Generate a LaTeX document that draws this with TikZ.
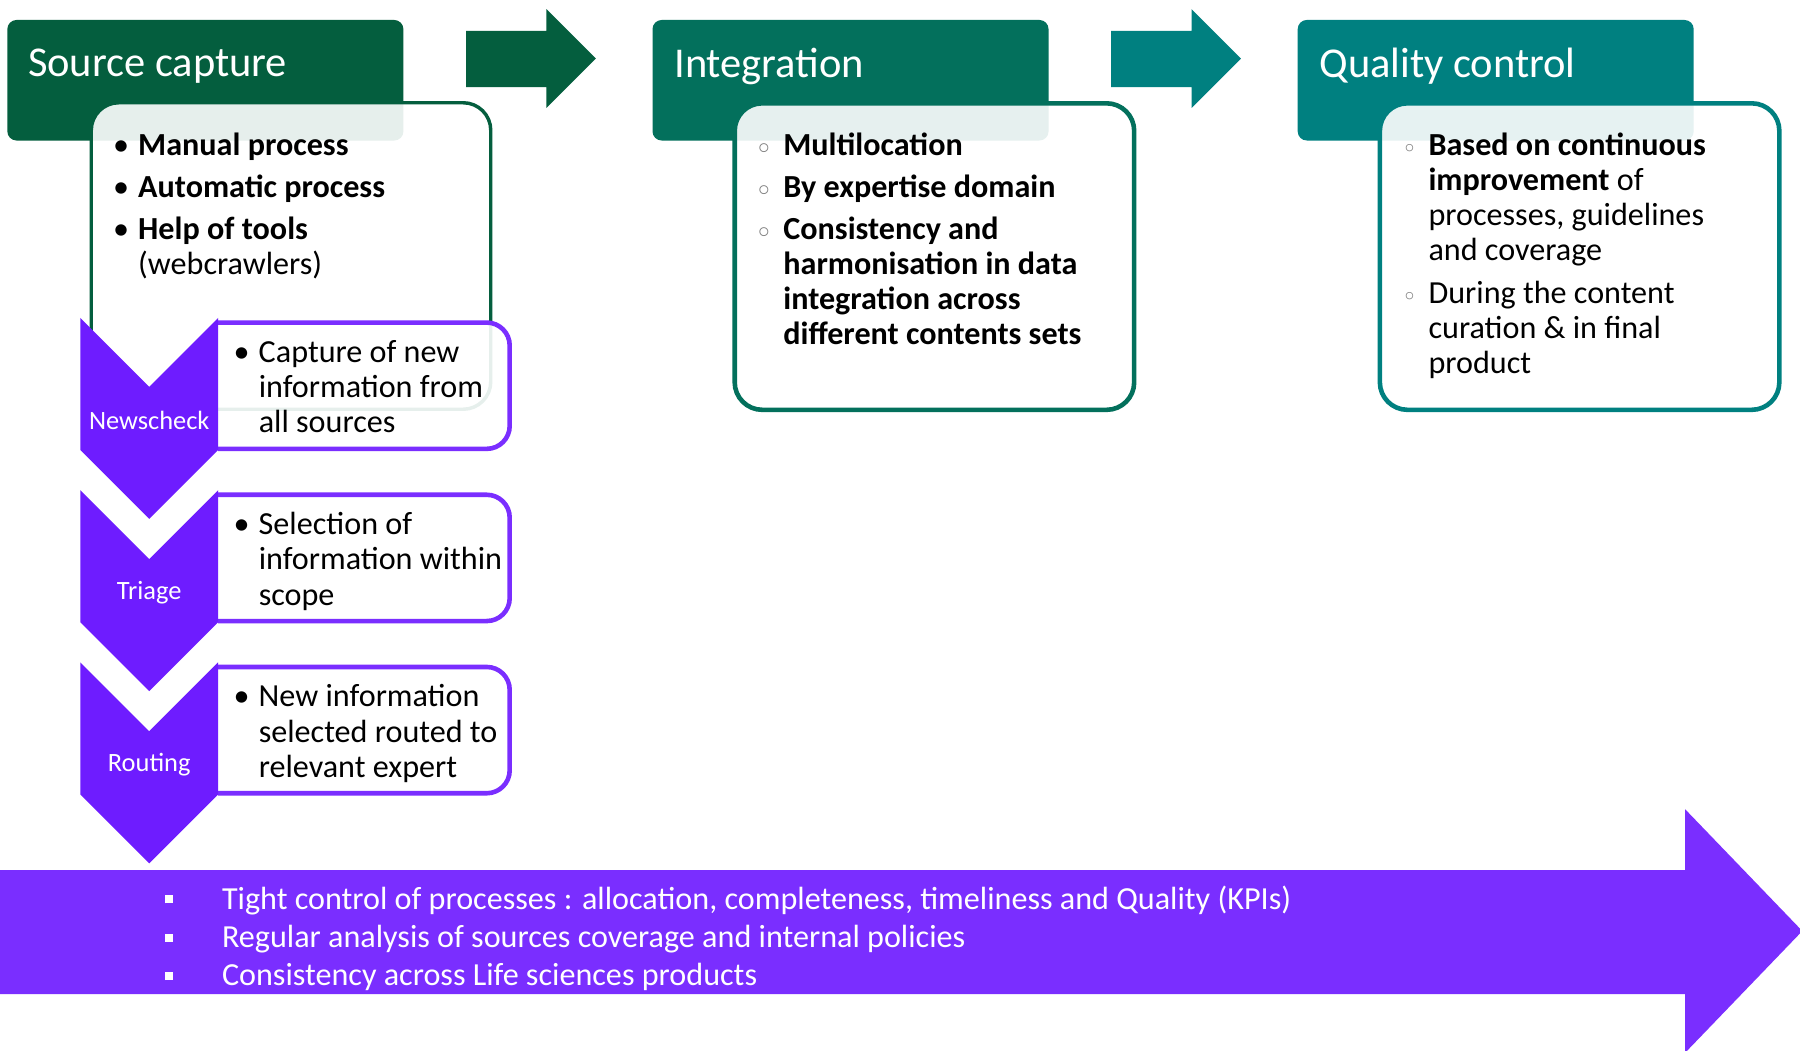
\documentclass[tikz,border=0pt]{standalone}
\usepackage{fontspec}
\setmainfont{Carlito}
\newfontfamily\symfont{DejaVu Sans}
\usepackage{xcolor}
\usepackage{tikz}
\usetikzlibrary{positioning,calc}
\setlength{\parindent}{0pt}

\definecolor{srcgreen}{RGB}{4,94,62}
\definecolor{intgreen}{RGB}{3,112,92}
\definecolor{qualteal}{RGB}{0,128,128}
\definecolor{chevviolet}{RGB}{110,28,255}
\definecolor{bandviolet}{RGB}{122,46,255}

\newcommand{\dotb}{\llap{\textbullet\hspace{4pt}}}
\newcommand{\ringb}{\llap{\textcolor{gray}{\raisebox{-1pt}{\symfont\fontsize{11}{11}\selectfont ◦}}\hspace{5pt}}}
\newcommand{\sqb}{\llap{\rule[2.5pt]{3.5pt}{3.5pt}\hspace{21.5pt}}}

\tikzset{
  headbox/.style={rounded corners=4pt,minimum width=172.5pt,minimum height=52.5pt,anchor=north west,inner sep=0pt},
  headtitle/.style={text=white,font=\fontsize{18.5}{22}\selectfont,anchor=west,inner sep=0pt},
  bodybox/.style={rounded corners=12pt,line width=2pt,fill=white,fill opacity=0.9,minimum width=174pt,minimum height=133.5pt,anchor=north west,inner sep=0pt},
  bodytext/.style={align=left,font=\fontsize{14}{15.3}\selectfont,anchor=north west,inner sep=0pt},
  stepframe/.style={draw=bandviolet,line width=2pt,fill=white,fill opacity=0.9,rounded corners=10pt},
  chevlabel/.style={text=white,font=\fontsize{11.5}{13}\selectfont,inner sep=0pt},
  bandtext/.style={text=white,align=left,font=\fontsize{14}{16.75}\selectfont,anchor=north west,inner sep=0pt}
}

\begin{document}
\begin{tikzpicture}[x=0.5pt,y=-0.5pt]
% canvas
\useasboundingbox (0,0) rectangle (1568,915);
\fill[white] (0,0) rectangle (1568,915);

% stage headers
\node[headbox,fill=srcgreen] (srchead) at (6,17) {};
\node[headbox,fill=intgreen] (inthead) at (568,17) {};
\node[headbox,fill=qualteal] (qualhead) at (1130,17) {};
\node[headtitle] (srctitle) at (24,58) {Source capture};
\node[headtitle] (inttitle) at (587,58) {Integration};
\node[headtitle] (qualtitle) at (1149,58) {Quality control};

% arrows between the stages
\foreach \dx/\col in {0/srcgreen,562/qualteal}
  \fill[\col] ({406+\dx},27) -- ({476+\dx},27) -- ({476+\dx},8) -- ({519+\dx},51)
    -- ({476+\dx},94) -- ({476+\dx},76) -- ({406+\dx},76) -- cycle;

% content boxes
\node[bodybox,draw=srcgreen,line width=1.5pt] (srcbody) at (78,88) {};
\node[bodybox,draw=intgreen] (intbody) at (638,88) {};
\node[bodybox,draw=qualteal] (qualbody) at (1200,88) {};

\node[bodytext] (srclist) at (120,115) {\dotb\textbf{Manual process}\\[3pt]
  \dotb\textbf{Automatic process}\\[3pt]
  \dotb\textbf{Help of tools}\\
  (webcrawlers)};
\node[bodytext,font=\fontsize{14}{15.3}\selectfont\bfseries] (intlist) at (682,115) {\ringb Multilocation\\[3pt]
  \ringb By expertise domain\\[3pt]
  \ringb Consistency and\\
  harmonisation in data\\
  integration across\\
  different contents sets};
\node[bodytext] (quallist) at (1244,115) {\ringb\textbf{Based on continuous}\\
  \textbf{improvement} of\\
  processes, guidelines\\
  and coverage\\[3.5pt]
  \ringb During the content\\
  curation \& in final\\
  product};

% bottom band arrow
\fill[bandviolet] (0,758) -- (1468,758) -- (1468,705) -- (1570,811) -- (1468,917)
  -- (1468,866) -- (0,866) -- cycle;
\node[bandtext] (bandlist) at (193,771) {\sqb Tight control of processes : allocation, completeness, timeliness and Quality (KPIs)\\
  \sqb Regular analysis of sources coverage and internal policies\\
  \sqb Consistency across Life sciences products};

% capture steps
\foreach \i in {0,1,2}
  \draw[stepframe] (190,{281+150*\i}) -- (444,{281+150*\i}) -- (444,{391+150*\i}) -- (190,{391+150*\i});
\foreach \i/\name/\lab in {0/newscheck/Newscheck,1/triage/Triage,2/routing/Routing}{
  \fill[chevviolet] (70,{277+150*\i}) -- (130,{337+150*\i}) -- (190,{277+150*\i})
    -- (190,{392+150*\i}) -- (130,{452+150*\i}) -- (70,{392+150*\i}) -- cycle;
  \node[chevlabel] (\name) at (130,{366+150*\i}) {\lab};
}
\node[bodytext] (newstext) at (225,296) {\dotb Capture of new\\ information from\\ all sources};
\node[bodytext] (triagetext) at (225,446) {\dotb Selection of\\ information within\\ scope};
\node[bodytext] (routetext) at (225,596) {\dotb New information\\ selected routed to\\ relevant expert};
\end{tikzpicture}
\end{document}
